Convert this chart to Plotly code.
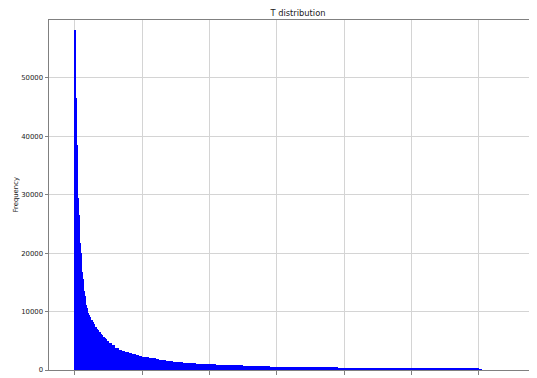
import numpy as np
import plotly.graph_objects as go

# histogram of T; bins get wider away from 0
seg_starts = [0.0, 0.005, 0.02, 0.2, 0.5, 2.0, 6.0]
seg_steps = [0.005, 0.015, 0.01, 0.02, 0.05, 0.1, 0.04]

counts_peak = [58200]
counts_second = [46600]
counts_fine = [38500, 33000, 29500, 26500, 24000, 21800, 20000, 18200,
               16800, 15600, 14500, 13500, 12600, 11900, 11200, 10700, 10200, 9800]
counts_mid = [9400, 9000, 8600, 8200, 7800, 7400, 7100, 6800, 6500, 6200,
              5950, 5700, 5450, 5250, 5050]
counts_wide = [4650, 4200, 3750, 3450, 3200, 3000, 2850, 2700, 2570, 2430,
               2300, 2200, 2080, 1980, 1880, 1760, 1680, 1600, 1520, 1450,
               1380, 1300, 1250, 1200, 1160, 1120, 1080, 1050, 1010, 980]
counts_tail = [950, 910, 870, 830, 800, 760, 720, 680, 640, 600,
               570, 550, 530, 510, 495, 480, 465, 450, 430, 415,
               400, 395, 390, 385, 380, 375, 365, 360, 350, 340,
               330, 320, 310, 300, 290, 280, 265, 250, 235, 220]
counts_end = [110]

x_ticks = [0, 1, 2, 3, 4, 5, 6]
x_ticktext = ["0", "", "", "", "", "", ""]

seg_counts = [counts_peak, counts_second, counts_fine, counts_mid,
              counts_wide, counts_tail, counts_end]

mids, widths, counts = [], [], []
for start, step, cnt in zip(seg_starts, seg_steps, seg_counts):
    left = start + step * np.arange(len(cnt))
    mids.extend(left + step / 2)
    widths.extend([step] * len(cnt))
    counts.extend(cnt)

fig = go.Figure(go.Bar(x=mids, y=counts, width=widths,
                       marker=dict(color='blue', line_width=0)))

axis_style = dict(showgrid=True, gridcolor='#d4d4d4', gridwidth=1,
                  showline=True, linecolor='#808080', linewidth=1,
                  ticks='outside', ticklen=3.5, tickcolor='#808080',
                  zeroline=False, automargin=False)

# the page body adds 8px round the figure, so margins are 8px smaller
fig.update_layout(
    width=539, height=378,
    margin=dict(l=41, r=0, t=12, b=16),
    plot_bgcolor='white', paper_bgcolor='white',
    bargap=0, showlegend=False,
    font=dict(family='DejaVu Sans', size=6.9, color='#222'),
    title=dict(text='T distribution', x=0.5, xref='paper', xanchor='center',
               y=1 - 5.5 / 378, yref='container', yanchor='middle',
               font=dict(size=8.3, color='#222')),
    xaxis=dict(range=[-0.386, 7.01], tickvals=x_ticks, ticktext=x_ticktext,
               mirror=True, **axis_style),
    yaxis=dict(range=[0, 59930], dtick=10000, tickformat='d', **axis_style),
    annotations=[dict(text='Frequency', textangle=-90, xref='paper', yref='paper',
                      x=(15.5 - 49) / 498, y=0.5, xanchor='center', yanchor='middle',
                      showarrow=False, font=dict(size=6.9, color='#222'))],
)

fig.write_html("out.html")
